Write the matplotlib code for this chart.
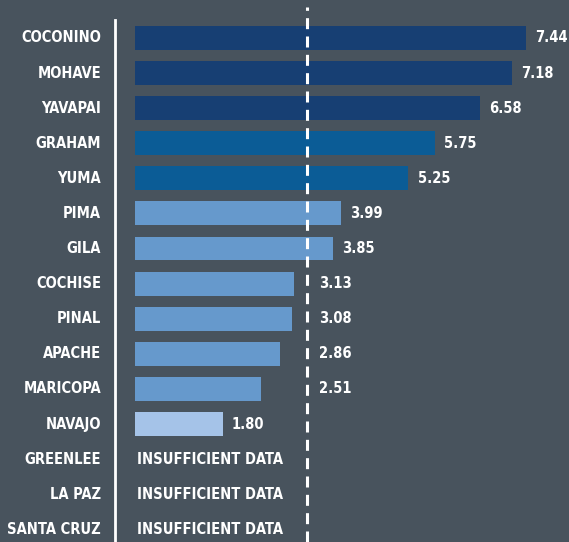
import matplotlib.pyplot as plt

counties = ['COCONINO', 'MOHAVE', 'YAVAPAI', 'GRAHAM', 'YUMA', 'PIMA', 'GILA',
            'COCHISE', 'PINAL', 'APACHE', 'MARICOPA', 'NAVAJO',
            'GREENLEE', 'LA PAZ', 'SANTA CRUZ']
values = [7.44, 7.18, 6.58, 5.75, 5.25, 3.99, 3.85, 3.13, 3.08, 2.86, 2.51, 1.80,
          None, None, None]
state_avg = 3.36

navy = '#173f73'
blue = '#0b5c96'
mid = '#6699cc'
light = '#a5c3e8'
bg = '#48535d'

def bar_color(v):
    if v >= 6:
        return navy
    if v >= 5:
        return blue
    if v >= 2:
        return mid
    return light

W, H = 569, 542
fig = plt.figure(figsize=(W / 100, H / 100), dpi=100, facecolor=bg)
ax = fig.add_axes([135 / W, 0, 1 - 135 / W, 1], facecolor=bg)

font = dict(family='DejaVu Sans', stretch='condensed', weight='bold',
            color='white', fontsize=10.5)

# county names, right aligned left of the white rule
name_x = (101 - 135) / (W - 135)
for i, name in enumerate(counties):
    ax.text(name_x, i, name, ha='right', va='center',
            transform=ax.get_yaxis_transform(), clip_on=False, **font)

for i, v in enumerate(values):
    if v is None:
        ax.text(0.2, i, 'INSUFFICIENT DATA', va='center', ha='left', **font)
        continue
    ax.barh(i, v, height=0.68, color=bar_color(v), zorder=2)
    lx = v + 0.17
    if state_avg - 1.0 < v < state_avg:
        lx = state_avg + 0.22
    ax.text(lx, i, f'{v:.2f}', va='center', ha='left', **font)

ax.axvline(state_avg, color='white', lw=2.2, ls=(0, (3.6, 2.4)), zorder=3,
           ymax=1 - 7 / H)

# px scale: zero at x=126, 53.8 px per unit
x0 = (135 - 126) / 53.8
ax.set_xlim(x0, x0 + (W - 135) / 53.8)
ax.set_ylim(14.36, -1.08)

ax.set_yticks([])
ax.set_xticks([])

for s in ['top', 'right', 'bottom']:
    ax.spines[s].set_visible(False)
ax.spines['left'].set_position(('outward', 14.4))
ax.spines['left'].set_color('white')
ax.spines['left'].set_linewidth(2)
ax.spines['left'].set_bounds(14.36, -0.52)

fig.savefig('out.png', dpi=100, facecolor=bg)
